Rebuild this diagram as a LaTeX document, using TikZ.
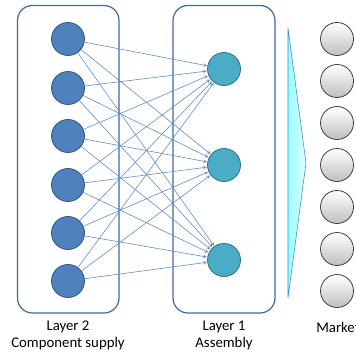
\documentclass[tikz,border=0pt]{standalone}
\usepackage{fontspec}
\setmainfont{Carlito}
\usetikzlibrary{calc, positioning, arrows}

\definecolor{boxblue}{HTML}{41689A}
\definecolor{supply}{HTML}{4F81BD}
\definecolor{assembly}{HTML}{4BACC6}

\begin{document}
\begin{tikzpicture}[x=1pt, y=-1pt,
        layer/.style={draw=boxblue, line width=1.2pt, rounded corners=15pt},
        sup/.style={circle, fill=supply, draw=supply!65!black, line width=0.8pt, minimum size=33pt, inner sep=0pt},
        asm/.style={circle, fill=assembly, draw=assembly!65!black, line width=0.8pt, minimum size=33pt, inner sep=0pt},
        mkt/.style={circle, top color=white, bottom color=black!25, draw=black!75, line width=0.8pt, minimum size=33pt, inner sep=0pt},
        link/.style={draw=supply!90, line width=0.6pt, -stealth, shorten >=0.5pt},
        lbl/.style={font=\fontsize{14.8}{17}\selectfont, align=center}]
    \useasboundingbox (0,0) rectangle (356,353);
    % boxes
    \draw[layer] (17.5,5.5) rectangle (119,313);
    \draw[layer] (173,5.5) rectangle (275,313);
    % wedge
    \path[left color=cyan!42, right color=cyan!10, draw=cyan!65!blue!80, line width=0.6pt]
        (288,28) -- (306,163) -- (288,298) -- cycle;
    % nodes
    \foreach \i/\y in {1/39, 2/88, 3/136, 4/185, 5/233, 6/281}
        \node[sup] (s\i) at (68,\y) {};
    \foreach \i/\y in {1/69, 2/165, 3/260}
        \node[asm] (a\i) at (224,\y) {};
    \foreach \i/\y in {1/39, 2/81, 3/123, 4/165, 5/207, 6/249, 7/291}
        \node[mkt] (m\i) at (337,\y) {};
    % links
    \foreach \i in {1,...,6}
        \foreach \j in {1,2,3}
            \draw[link] (s\i) -- (a\j);
    % labels
    \node[lbl] (l2) at (68,335) {Layer 2\\Component supply};
    \node[lbl] (l1) at (224,335) {Layer 1\\Assembly};
    \node[lbl, anchor=north] (lm) at (338,317) {Market\strut};
\end{tikzpicture}
\end{document}
